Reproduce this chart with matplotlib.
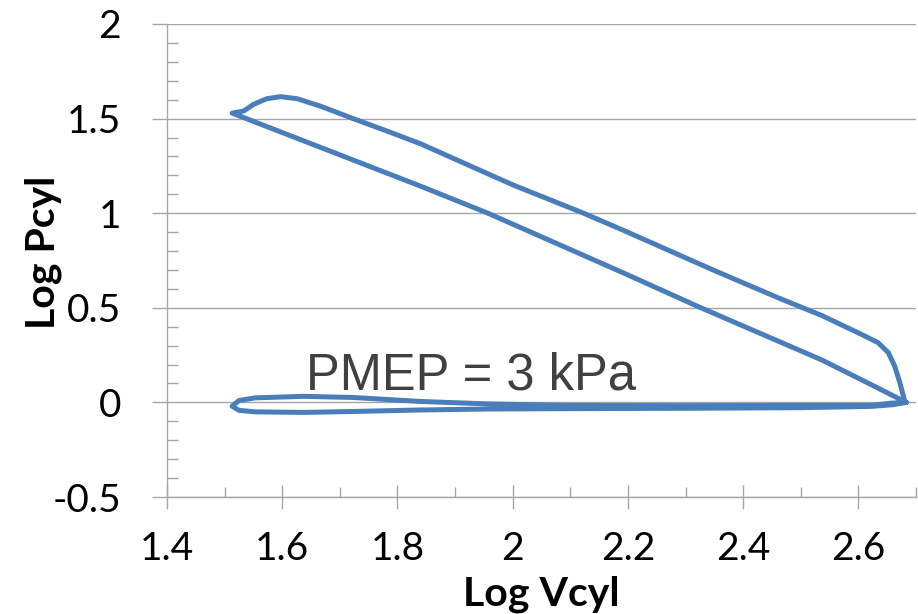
import numpy as np
import matplotlib
matplotlib.use("Agg")
import matplotlib.pyplot as plt
from matplotlib.ticker import MultipleLocator, FuncFormatter

plt.rcParams['font.family'] = ['Lato', 'DejaVu Sans']

# compression stroke (BDC -> TDC)
comp_v = [2.683, 2.628, 2.536, 2.323, 2.188, 1.957, 1.84, 1.513]
comp_p = [0.0, 0.085, 0.225, 0.505, 0.69, 1.0, 1.143, 1.529]

# expansion stroke (TDC -> BDC)
exp_v = [1.513, 1.533, 1.550, 1.573, 1.597, 1.626, 1.666, 1.724, 1.782, 1.84,
         2.0, 2.123, 2.188, 2.35, 2.463, 2.536, 2.605, 2.634, 2.652, 2.663, 2.672, 2.681]
exp_p = [1.529, 1.540, 1.575, 1.605, 1.616, 1.605, 1.566, 1.499, 1.434, 1.367,
         1.15, 1.0, 0.915, 0.697, 0.55, 0.46, 0.36, 0.316, 0.263, 0.192, 0.104, 0.0]

# exhaust stroke (BDC -> TDC)
exh_v = [2.683, 2.657, 2.623, 2.5, 2.3, 2.1, 1.957, 1.84, 1.723, 1.637, 1.553, 1.525, 1.513]
exh_p = [0.0, -0.004, -0.016, -0.016, -0.017, -0.016, -0.008, 0.005, 0.026, 0.032, 0.024, 0.01, -0.02]

# intake stroke (TDC -> BDC)
int_v = [1.513, 1.525, 1.553, 1.637, 1.723, 1.84, 1.957, 2.1, 2.3, 2.5, 2.623, 2.66, 2.683]
int_p = [-0.02, -0.042, -0.05, -0.053, -0.048, -0.04, -0.035, -0.033, -0.031, -0.028, -0.021, -0.012, 0.0]

annotation = "PMEP = 3 kPa"

grey = '#A6A6A6'
blue = '#4A7EBB'

fig = plt.figure(figsize=(9.18, 6.14), dpi=100)
ax = fig.add_axes([167 / 918, 1 - 497 / 614, (916 - 167) / 918, (497 - 24) / 614])

v = np.concatenate([comp_v, exp_v, exh_v, int_v])
p = np.concatenate([comp_p, exp_p, exh_p, int_p])
ax.plot(v, p, color=blue, lw=3.6, solid_joinstyle='round', solid_capstyle='round',
        clip_on=False, zorder=3)

ax.set_xlim(1.4, 2.7)
ax.set_ylim(-0.5, 2)

ax.xaxis.set_major_locator(MultipleLocator(0.2))
ax.xaxis.set_minor_locator(MultipleLocator(0.1))
ax.yaxis.set_major_locator(MultipleLocator(0.5))
ax.yaxis.set_minor_locator(MultipleLocator(0.1))
fmt = FuncFormatter(lambda val, pos: '%g' % round(val, 2))
ax.xaxis.set_major_formatter(fmt)
ax.yaxis.set_major_formatter(fmt)

ax.yaxis.grid(True, which='major', color=grey, lw=1.0)
ax.set_axisbelow(True)

for side in ['top', 'right']:
    ax.spines[side].set_visible(False)
for side in ['left', 'bottom']:
    ax.spines[side].set_color(grey)
    ax.spines[side].set_linewidth(1.0)

ax.tick_params(axis='x', which='major', direction='inout', length=17, width=1,
               color=grey, labelsize=28, pad=16)
ax.tick_params(axis='x', which='minor', direction='in', length=7, width=1, color=grey)
ax.tick_params(axis='y', which='major', direction='out', length=11, width=1,
               color=grey, labelsize=28, pad=22)
ax.tick_params(axis='y', which='minor', direction='in', length=8, width=1, color=grey)

ax.text(1.642, 0.069, annotation, fontsize=36.5, color='#404040',
        family=['Liberation Sans', 'DejaVu Sans'], va='baseline', ha='left')

fig.text(541 / 918, 1 - 594 / 614, "Log Vcyl", fontsize=29.5, fontweight='bold',
         ha='center', va='center')
fig.text(43 / 918, 1 - 252 / 614, "Log Pcyl", fontsize=29.5, fontweight='bold',
         ha='center', va='center', rotation=90)

fig.savefig("out.png", dpi=100)
